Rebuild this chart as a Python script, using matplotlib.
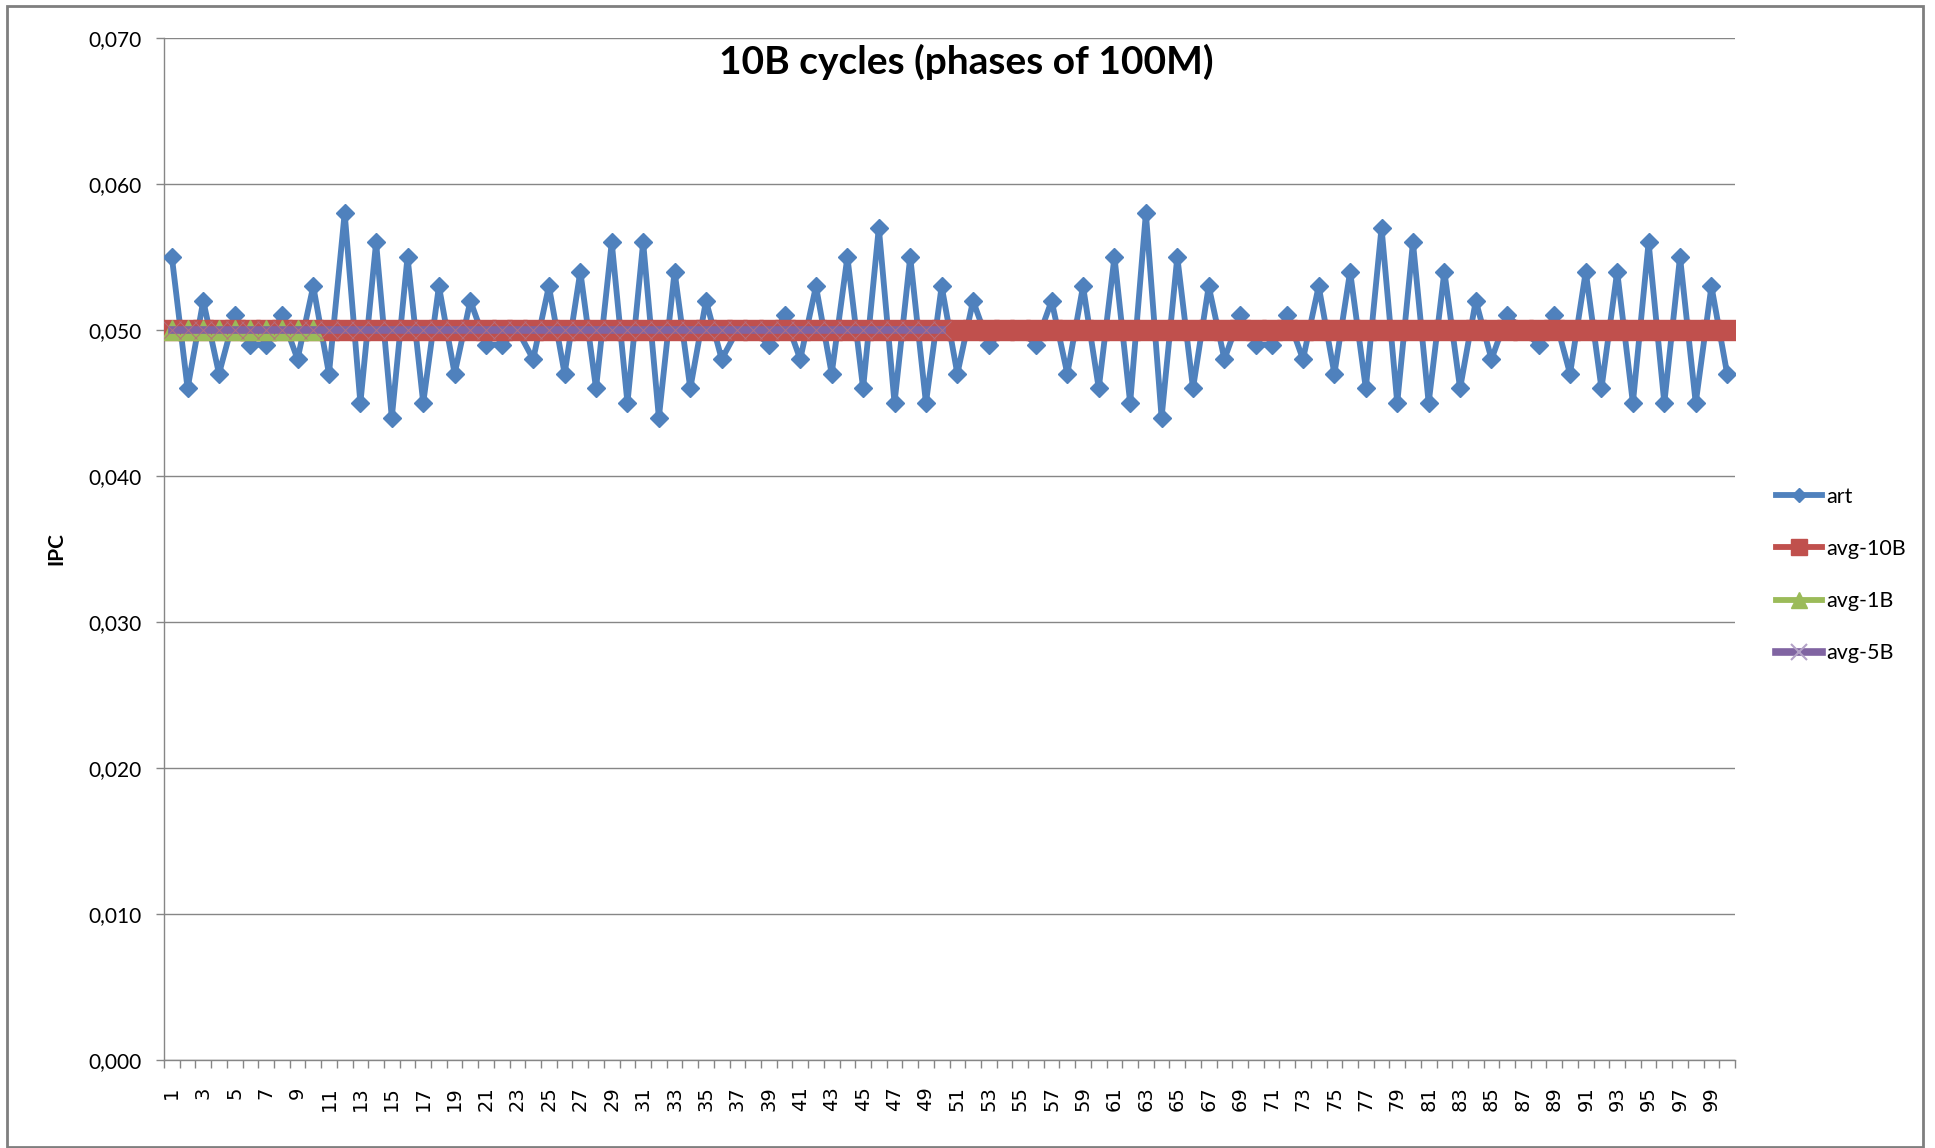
import matplotlib
matplotlib.use('Agg')
import matplotlib.pyplot as plt
from matplotlib.patches import Rectangle
from matplotlib.ticker import FuncFormatter, MultipleLocator

phases = list(range(1, 101))
art = [0.055, 0.046, 0.052, 0.047, 0.051, 0.049, 0.049, 0.051, 0.048, 0.053,
       0.047, 0.058, 0.045, 0.056, 0.044, 0.055, 0.045, 0.053, 0.047, 0.052,
       0.049, 0.049, 0.050, 0.048, 0.053, 0.047, 0.054, 0.046, 0.056, 0.045,
       0.056, 0.044, 0.054, 0.046, 0.052, 0.048, 0.050, 0.050, 0.049, 0.051,
       0.048, 0.053, 0.047, 0.055, 0.046, 0.057, 0.045, 0.055, 0.045, 0.053,
       0.047, 0.052, 0.049, 0.050, 0.050, 0.049, 0.052, 0.047, 0.053, 0.046,
       0.055, 0.045, 0.058, 0.044, 0.055, 0.046, 0.053, 0.048, 0.051, 0.049,
       0.049, 0.051, 0.048, 0.053, 0.047, 0.054, 0.046, 0.057, 0.045, 0.056,
       0.045, 0.054, 0.046, 0.052, 0.048, 0.051, 0.050, 0.049, 0.051, 0.047,
       0.054, 0.046, 0.054, 0.045, 0.056, 0.045, 0.055, 0.045, 0.053, 0.047]
avg_10b = [0.050] * 100
avg_1b = [0.050] * 10
avg_5b = [0.050] * 50

blue = '#4F81BD'
red = '#C0504D'
green = '#9BBB59'
purple = '#8064A2'

plt.rcParams['font.family'] = ['Lato', 'DejaVu Sans']

fig = plt.figure(figsize=(19.35, 11.48), dpi=100)
ax = fig.add_axes([164 / 1935, 1 - 1060 / 1148, (1735 - 164) / 1935, (1060 - 38) / 1148])

ax.plot(phases, art, color=blue, lw=4.2, marker='D', markersize=9.5,
        markerfacecolor=blue, markeredgecolor=blue, zorder=3, label='art')
ax.plot(phases, avg_10b, color=red, lw=4.2, marker='s', markersize=15,
        markerfacecolor=red, markeredgecolor=red, zorder=4, label='avg-10B')
ax.plot(phases[:10], avg_1b, color=green, lw=4.2, marker='^', markersize=15,
        markerfacecolor=green, markeredgecolor=green, zorder=5, label='avg-1B')
# faint x markers on the purple series, barely visible on the red band
ax.plot(phases[:50], avg_5b, color=purple, lw=5.5, marker='x', markersize=13,
        markeredgecolor='#B5707F', markeredgewidth=0.7, zorder=6, label='_nolegend_')

# legend handles drawn separately so the x marker shows clearly there
h_art, = ax.plot([], [], color=blue, lw=4.2, marker='D', markersize=9.5)
h_10b, = ax.plot([], [], color=red, lw=4.2, marker='s', markersize=15)
h_1b, = ax.plot([], [], color=green, lw=4.2, marker='^', markersize=14)
h_5b, = ax.plot([], [], color=purple, lw=5.5, marker='x', markersize=15,
                markeredgecolor='#B3A2C7', markeredgewidth=1.5)

ax.set_xlim(0.5, 100.5)
ax.set_ylim(0, 0.070)
ax.yaxis.set_major_locator(MultipleLocator(0.010))
ax.yaxis.set_major_formatter(FuncFormatter(lambda v, p: ('%.3f' % v).replace('.', ',')))
ax.set_xticks(phases[::2])
ax.set_xticklabels([str(p) for p in phases[::2]], rotation=90,
                   family=['DejaVu Sans'], fontsize=14)
ax.set_xticks([p - 0.5 for p in phases] + [100.5], minor=True)
ax.tick_params(axis='x', which='major', length=0, pad=19)
ax.tick_params(axis='x', which='minor', length=6, width=1, color='#868686', direction='out')
ax.tick_params(axis='y', length=6, width=1, color='#868686', pad=10, labelsize=15)

ax.grid(axis='y', color='#868686', lw=1)
ax.set_axisbelow(True)
for side in ['top', 'right']:
    ax.spines[side].set_visible(False)
for side in ['left', 'bottom']:
    ax.spines[side].set_color('#868686')
    ax.spines[side].set_linewidth(1)

fig.text(966 / 1935, 1 - 62 / 1148, '10B cycles (phases of 100M)', ha='center', va='center',
         fontsize=28, fontweight='bold')
fig.text(56 / 1935, 1 - 549 / 1148, 'IPC', rotation=90, ha='center', va='center',
         fontsize=15, fontweight='bold')

ax.legend([h_art, h_10b, h_1b, h_5b], ['art', 'avg-10B', 'avg-1B', 'avg-5B'],
          loc='center left', bbox_to_anchor=(1757 / 1935, 1 - 575 / 1148),
          bbox_transform=fig.transFigure, frameon=False, fontsize=15.5,
          handlelength=2.1, handletextpad=0.2, labelspacing=1.5, markerscale=0.8)

fig.patches.append(Rectangle((7 / 1935, 1 / 1148), 1916 / 1935, 1141 / 1148,
                             transform=fig.transFigure, fill=False,
                             edgecolor='#7F7F7F', lw=2))

fig.savefig('out.png', dpi=100)
